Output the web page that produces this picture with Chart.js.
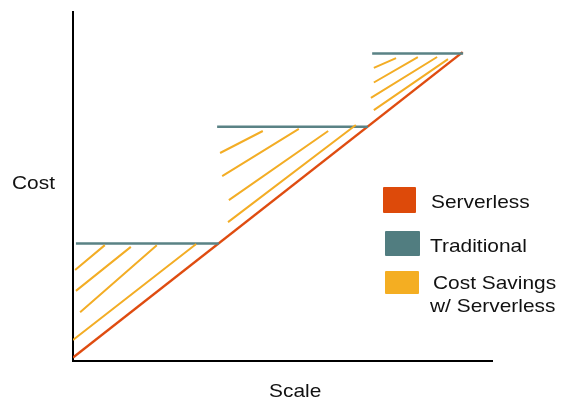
<!DOCTYPE html>
<html>
<head>
<meta charset="utf-8">
<script src="https://cdn.jsdelivr.net/npm/chart.js@4"></script>
<style>
  html, body { margin: 0; padding: 0; background: #fff; }
  #wrap { position: relative; width: 562px; height: 401px; font-family: "Liberation Sans", Arial, sans-serif; }
  #chart { position: absolute; left: 0; top: 0; }
  .lbl { position: absolute; font-size: 19px; line-height: 19px; color: #111; white-space: nowrap;
         transform: scaleX(1.1); transform-origin: left top; }
  .box { position: absolute; border-radius: 1px; }
</style>
</head>
<body>
<div id="wrap">
  <canvas id="chart" width="562" height="401"></canvas>
  <div class="lbl" style="left:12px; top:173px;">Cost</div>
  <div class="lbl" style="left:269px; top:381px;">Scale</div>
  <div class="box" style="left:383px; top:187px; width:33px; height:26px; background:#dd4a0a;"></div>
  <div class="box" style="left:385px; top:231px; width:35px; height:25px; background:#517d80;"></div>
  <div class="box" style="left:385px; top:271px; width:34px; height:23px; background:#f4ae22;"></div>
  <div class="lbl" style="left:431px; top:192px;">Serverless</div>
  <div class="lbl" style="left:430px; top:236px;">Traditional</div>
  <div class="lbl" style="left:433px; top:273px;">Cost Savings</div>
  <div class="lbl" style="left:430px; top:296px;">w/ Serverless</div>
</div>
<script>
// --- Data (arbitrary units: scale 0-100, cost 0-100) ---
const serverlessX = [0, 93];
const serverlessY = [1, 88.5];

// traditional cost steps
const stepStartX = [0.7, 34.4, 71.4];
const stepEndX = [34.8, 70.4, 93.1];
const stepCost = [33.7, 67.1, 88.1];

// hatch strokes showing savings
const savingsX1 = [0.5, 0.7, 1.7, 0, 35.1, 35.6, 37.2, 37.0, 71.8, 71.8, 71.1, 71.8];
const savingsY1 = [26.1, 20.1, 14.0, 6.0, 59.6, 53.0, 46.1, 39.8, 84.0, 79.8, 75.4, 71.9];
const savingsX2 = [7.6, 13.8, 20.0, 29.4, 45.3, 53.9, 60.9, 67.5, 77.1, 82.3, 86.9, 89.5];
const savingsY2 = [33.2, 32.7, 33.2, 33.5, 65.9, 66.5, 65.9, 67.6, 86.8, 87.1, 87.1, 86.5];

const colors = { serverless: '#df4c10', traditional: '#5a8285', savings: '#f3ad25' };

document.addEventListener('DOMContentLoaded', () => {
    const serverlessPts = serverlessX.map((x, i) => ({ x: x, y: serverlessY[i] }));

    const traditionalPts = [];
    stepCost.forEach((c, i) => {
        traditionalPts.push({ x: stepStartX[i], y: c }, { x: stepEndX[i], y: c }, { x: stepEndX[i], y: null });
    });

    const savingsPts = [];
    savingsX1.forEach((x, i) => {
        savingsPts.push({ x: x, y: savingsY1[i] }, { x: savingsX2[i], y: savingsY2[i] }, { x: savingsX2[i], y: null });
    });

    const noSize = s => { s.width = 0; s.height = 0; };

    new Chart(document.getElementById('chart'), {
        type: 'line',
        data: {
            datasets: [
                { label: 'Cost Savings w/ Serverless', data: savingsPts, borderColor: colors.savings, borderWidth: 2, pointRadius: 0, spanGaps: false },
                { label: 'Traditional', data: traditionalPts, borderColor: colors.traditional, borderWidth: 2.5, pointRadius: 0, spanGaps: false },
                { label: 'Serverless', data: serverlessPts, borderColor: colors.serverless, borderWidth: 2.5, pointRadius: 0 }
            ]
        },
        options: {
            responsive: false,
            animation: false,
            layout: { padding: { left: 73, right: 70, top: 12, bottom: 40 } },
            plugins: { legend: { display: false }, tooltip: { enabled: false } },
            scales: {
                x: {
                    type: 'linear', min: 0, max: 100,
                    ticks: { display: false },
                    grid: { display: false, drawTicks: false },
                    border: { display: true, color: '#000', width: 2 },
                    afterFit: noSize
                },
                y: {
                    type: 'linear', min: 0, max: 100,
                    ticks: { display: false },
                    grid: { display: false, drawTicks: false },
                    border: { display: true, color: '#000', width: 2 },
                    afterFit: noSize
                }
            }
        }
    });
});
</script>
</body>
</html>
